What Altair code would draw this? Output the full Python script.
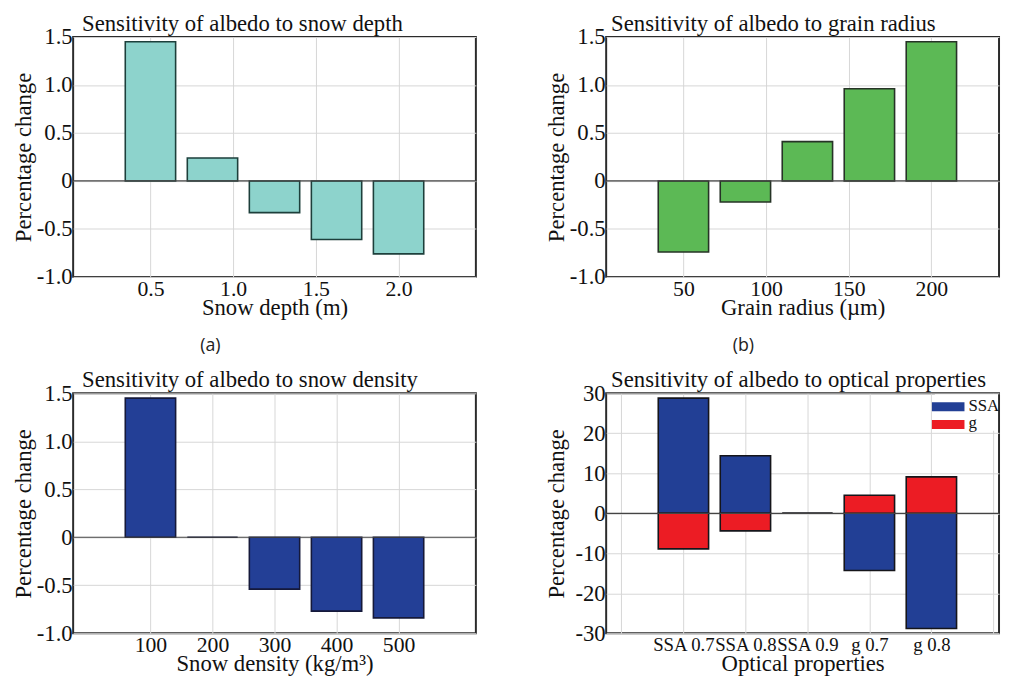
import json
import altair as alt
import pandas as pd

# ---------------- data ----------------
depth = [0.5, 0.875, 1.25, 1.625, 2.0]
depth_change = [1.45, 0.24, -0.33, -0.61, -0.76]
depth_ticks = [0.5, 1.0, 1.5, 2.0]

radius = [50, 87.5, 125, 162.5, 200]
radius_change = [-0.74, -0.22, 0.41, 0.96, 1.45]
radius_ticks = [50, 100, 150, 200]

density = [100, 200, 300, 400, 500]
density_change = [1.45, 0.0, -0.54, -0.77, -0.84]
density_ticks = [100, 200, 300, 400, 500]

optical_labels = ["SSA 0.7", "SSA 0.8", "SSA 0.9", "g 0.7", "g 0.8"]
ssa_change = [28.8, 14.4, 0.0, -14.3, -28.8]
g_change = [-8.9, -4.4, 0.0, 4.5, 9.1]
series_names = ["SSA", "g"]

pct_ticks = [-1.0, -0.5, 0.0, 0.5, 1.0, 1.5]
opt_ticks = [-30, -20, -10, 0, 10, 20, 30]

# ---------------- style ----------------
FONT = "Liberation Serif"
W1, W2, H = 408, 398, 243
BAR = 51

pct_expr = "datum.value == 0 ? '0' : (datum.value < 0 ? '-' : '') + format(abs(datum.value), '.1f')"
int_expr = "(datum.value < 0 ? '-' : '') + format(abs(datum.value), 'd')"


def zero_rule():
    return alt.Chart(pd.DataFrame({"z": [0]})).mark_rule(
        color="#444", strokeWidth=1.2
    ).encode(y=alt.Y("z:Q"))


def tag(label, x, y):
    return alt.Chart(pd.DataFrame({"t": [label]})).mark_text(
        font="Open Sans", fontSize=18, color="#222", align="center", baseline="middle"
    ).encode(x=alt.value(x), y=alt.value(y), text="t:N")


def ptitle(text, dx):
    return alt.TitleParams(text, anchor="start", frame="group", dx=dx)


def simple_panel(xs, vals, xdomain, xticks, xfmt, xtitle, fill, stroke, title, dx, width, label, label_x):
    df = pd.DataFrame({"x": xs, "v": vals})
    xaxis = alt.Axis(values=xticks, labelExpr=xfmt, title=xtitle)
    yaxis = alt.Axis(values=pct_ticks, labelExpr=pct_expr, title="Percentage change")
    bars = alt.Chart(df).mark_bar(
        size=BAR, fill=fill, stroke=stroke, strokeWidth=1.6
    ).encode(
        x=alt.X("x:Q", scale=alt.Scale(domain=xdomain, nice=False, zero=False), axis=xaxis),
        y=alt.Y("v:Q", scale=alt.Scale(domain=[-1.0, 1.5], nice=False), axis=yaxis),
    )
    layers = [bars, zero_rule()]
    if label:
        layers.append(tag(label, label_x, 313))
    return alt.layer(*layers).properties(width=width, height=H, title=ptitle(title, dx))


pa = simple_panel(depth, depth_change, [0.0625, 2.4375], depth_ticks,
                  "format(datum.value, '.1f')", "Snow depth (m)",
                  "#8dd3cc", "#1d3f3b", "Sensitivity of albedo to snow depth", 9, W1, "(a)", 139)

pb = simple_panel(radius, radius_change, [6.25, 6.25 + 237.5 * W2 / 408], radius_ticks,
                  "format(datum.value, 'd')", "Grain radius (µm)",
                  "#5cb955", "#263326", "Sensitivity of albedo to grain radius", 5, W2, "(b)", 139)

pc = simple_panel(density, density_change, [-16.67, 616.67], density_ticks,
                  "format(datum.value, 'd')", "Snow density (kg/m³)",
                  "#233f96", "#15193a", "Sensitivity of albedo to snow density", 9, W1, None, 0)

# optical properties panel
pos = [i + 1 for i in range(len(optical_labels))]
opt_df = pd.DataFrame({
    "x": pos + pos,
    "v": ssa_change + g_change,
    "s": [series_names[0]] * len(pos) + [series_names[1]] * len(pos),
})
d_unit = 408 / 6.3333
d_domain = [-0.16667, -0.16667 + W2 / d_unit]
lab_arr = json.dumps(optical_labels)
d_xaxis = alt.Axis(
    values=list(range(0, 7)),
    labelExpr=f"datum.value >= 1 && datum.value <= 5 ? {lab_arr}[datum.value - 1] : ''",
    title="Optical properties",
    labelFontSize=19,
    labelPadding=3,
    titlePadding=-2,
)
d_yaxis = alt.Axis(values=opt_ticks, labelExpr=int_expr, title="Percentage change")
d_bars = alt.Chart(opt_df).mark_bar(size=BAR, stroke="#15151a", strokeWidth=1.6).encode(
    x=alt.X("x:Q", scale=alt.Scale(domain=d_domain, nice=False, zero=False), axis=d_xaxis),
    y=alt.Y("v:Q", scale=alt.Scale(domain=[-30, 30], nice=False), axis=d_yaxis),
    fill=alt.Fill("s:N", scale=alt.Scale(domain=series_names, range=["#223f95", "#ec1c24"]), legend=None),
)
leg_box = alt.Chart(pd.DataFrame({"a": [0]})).mark_rect(fill="white").encode(
    x=alt.value(333), x2=alt.value(W2 - 1), y=alt.value(1), y2=alt.value(38)
)
leg_sw = alt.Chart(pd.DataFrame({"s": series_names, "y0": [9, 27], "y1": [18, 36]})).mark_rect().encode(
    x=alt.value(330), x2=alt.value(363),
    y=alt.Y("y0:Q", scale=None), y2="y1:Q",
    fill=alt.Fill("s:N", scale=alt.Scale(domain=series_names, range=["#223f95", "#ec1c24"]), legend=None),
)
leg_txt = alt.Chart(pd.DataFrame({"s": series_names, "yc": [13, 30]})).mark_text(
    font=FONT, fontSize=17, align="left", baseline="middle", color="#111"
).encode(x=alt.value(367), y=alt.Y("yc:Q", scale=None), text="s:N")

pd_ = alt.layer(d_bars, zero_rule(), leg_box, leg_sw, leg_txt).properties(
    width=W2, height=H,
    title=ptitle("Sensitivity of albedo to optical properties", 5),
).resolve_scale(fill="shared")

top = alt.hconcat(pa, pb, spacing=68)
bottom = alt.hconcat(pc, pd_, spacing=68)
chart = alt.vconcat(top, bottom, spacing=13).properties(
    padding={"left": 4, "top": 0, "right": 0, "bottom": 0}
).configure_view(
    stroke="#2b2b2b", strokeWidth=2
).configure_axis(
    labelFont=FONT, labelFontSize=23, labelColor="#111",
    titleFont=FONT, titleFontSize=23, titleFontWeight="normal", titleColor="#111",
    grid=True, gridColor="#d6d6d6", gridWidth=1,
    ticks=False, domain=False, labelFlush=False, labelOverlap=False, labelBound=False,
).configure_axisY(
    labelPadding=1, minExtent=37, maxExtent=37, titlePadding=1,
).configure_axisX(
    labelPadding=2, titlePadding=-3, labelFontSize=22,
).configure_title(
    font=FONT, fontSize=23, fontWeight="normal", color="#111", offset=-10, baseline="alphabetic",
)

chart.save("out.html", embed_options={"renderer": "svg", "actions": False})
